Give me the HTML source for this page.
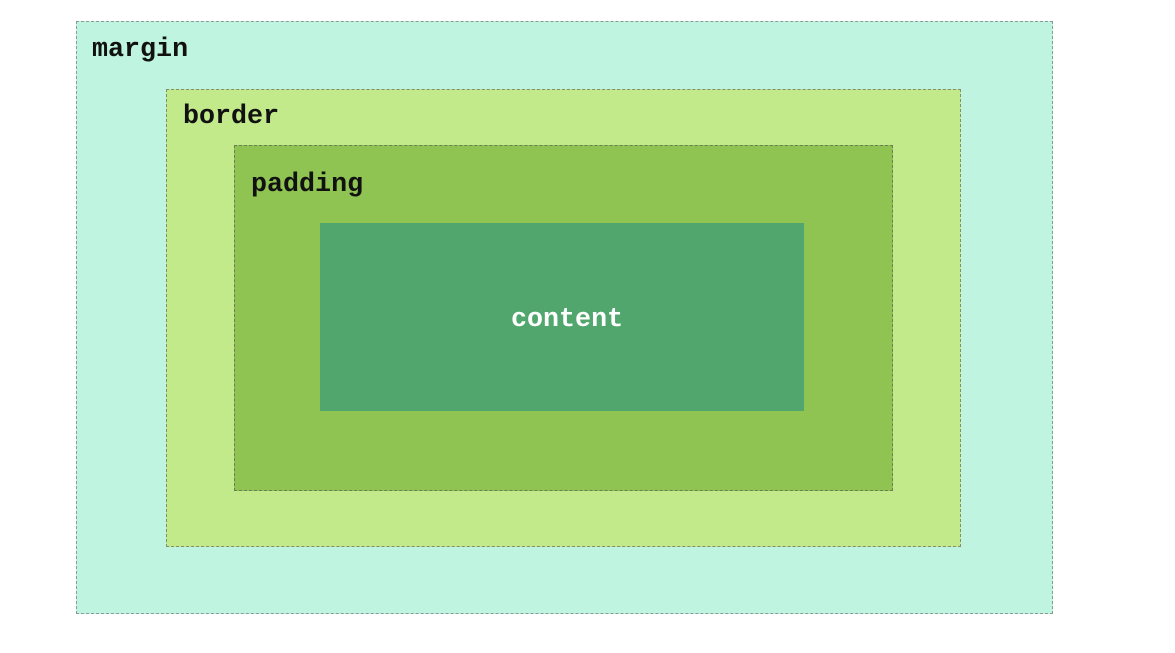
<!DOCTYPE html>
<html><head><style>
body{margin:0;width:1175px;height:653px;background:#fff;position:relative;overflow:hidden;font-family:"Liberation Mono",monospace;font-weight:bold;font-size:26.7px}
div.b{position:absolute;box-sizing:border-box}
span{position:absolute;line-height:1}
</style></head><body>
<div class="b" style="left:76px;top:21px;width:977px;height:593px;background:#bff5e0;border:1px dashed #8a9a94"></div>
<div class="b" style="left:166px;top:89px;width:795px;height:458px;background:#c2e98a;border:1px dashed #7f8f70"></div>
<div class="b" style="left:234px;top:145px;width:659px;height:346px;background:#8fc452;border:1px dashed #6a7f55"></div>
<div class="b" style="left:320px;top:223px;width:484px;height:188px;background:#50a66c"></div>
<span style="left:92px;top:37px;color:#111">margin</span>
<span style="left:183px;top:104px;color:#111">border</span>
<span style="left:251px;top:172px;color:#111">padding</span>
<span style="left:511px;top:307px;color:#fff">content</span>
</body></html>
